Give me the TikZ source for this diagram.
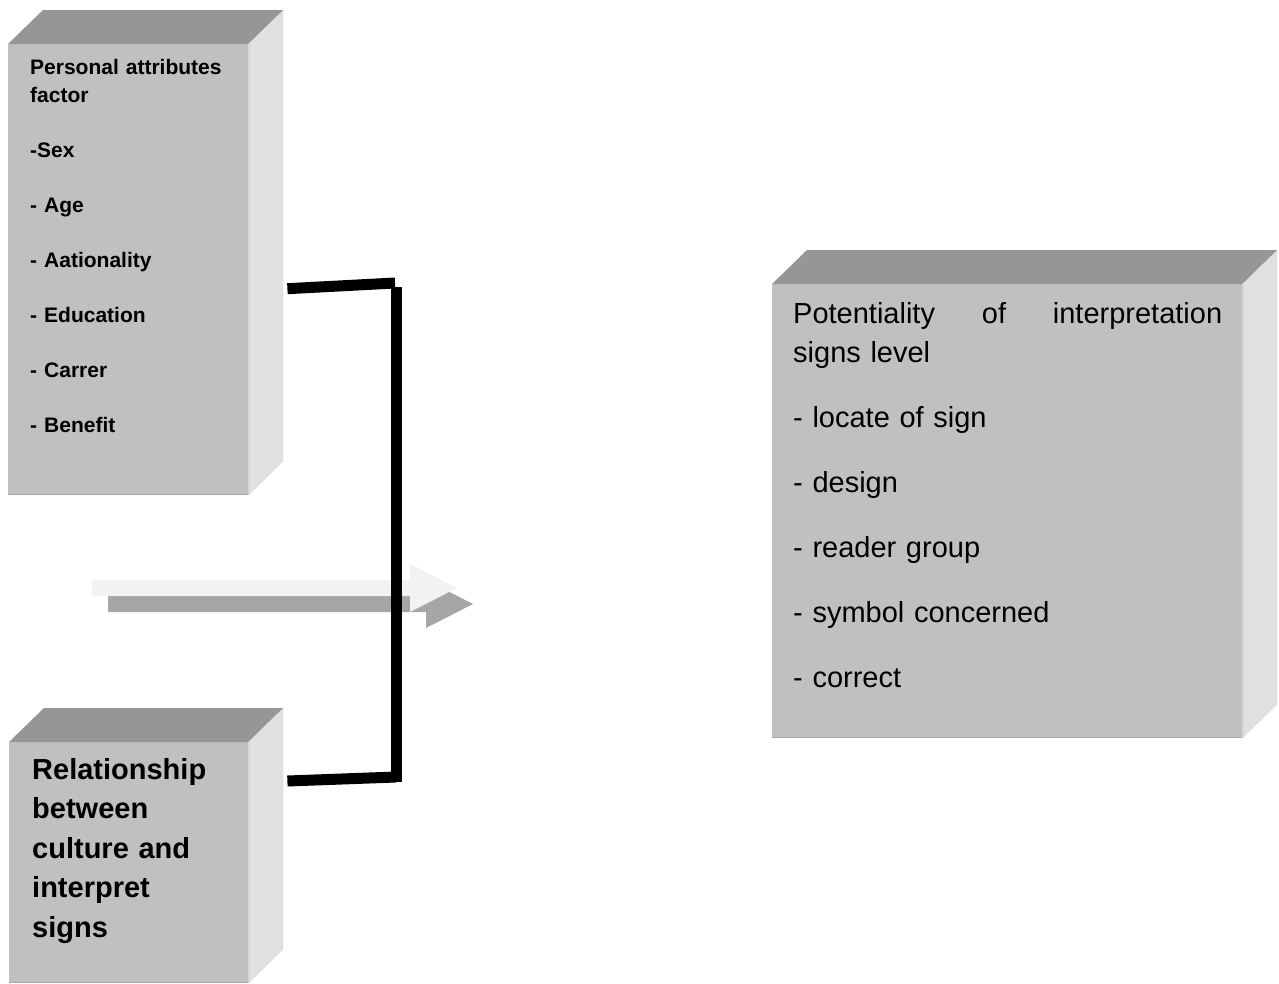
\documentclass[tikz,border=0pt]{standalone}
\usepackage{fontspec}
\setmainfont{Liberation Sans}
\usepackage{tikz}
\usetikzlibrary{calc}

\definecolor{frontgray}{HTML}{C0C0C0}
\definecolor{topgray}{HTML}{969696}
\definecolor{sidegray}{HTML}{E0E0E0}
\definecolor{edgelight}{HTML}{D6D6D6}
\definecolor{edgedark}{HTML}{A8A8A8}
\definecolor{arrowlight}{HTML}{F2F2F2}
\definecolor{arrowdark}{HTML}{A6A6A6}

\begin{document}
\begin{tikzpicture}[x=1pt,y=-1pt]
  \useasboundingbox (0,0) rectangle (1279,983);
  % front faces
  \begin{scope}[every node/.style={fill=frontgray,inner sep=0,anchor=north west}]
    \node[minimum width=240,minimum height=451] (attr) at (8,44) {};
    \node[minimum width=239,minimum height=241] (culture) at (9,742) {};
    \node[minimum width=470,minimum height=454] (interp) at (772,284) {};
  \end{scope}
  % top and side faces
  \foreach \b in {attr,culture,interp} {
    \fill[topgray] (\b.north west) -- ++(35,-34) -- ($(\b.north east)+(35,-34)$) -- (\b.north east) -- cycle;
    \fill[sidegray] (\b.north east) -- ++(35,-34) -- ($(\b.south east)+(35,-34)$) -- (\b.south east) -- cycle;
    \draw[edgelight,line width=2] ($(\b.north east)+(1,0)$) -- ($(\b.south east)+(1,0)$);
    \draw[edgedark,line width=1.5] ($(\b.south west)+(0,-0.75)$) -- ($(\b.south east)+(0,-0.75)$);
  }
  % texts
  \begin{scope}[every node/.style={anchor=base west,inner sep=0,align=left}]
    \node[text width=215,font=\fontsize{21}{28}\selectfont\bfseries] (attrtext) at (30,74)
      {Personal attributes\\factor\\[27pt]-Sex\\[27pt]- Age\\[27pt]- Aationality\\[27pt]- Education\\[27pt]- Carrer\\[27pt]- Benefit};
    \node[text width=200,font=\fontsize{29}{39.5}\selectfont\bfseries] (culturetext) at (32,779)
      {Relationship\\between\\culture and\\interpret\\signs};
    \node[text width=429,font=\fontsize{29}{39}\selectfont] (interptext) at (793,323)
      {Potentiality\hfill of\hfill interpretation\\signs level\\[26pt]- locate of sign\\[26pt]- design\\[26pt]- reader group\\[26pt]- symbol concerned\\[26pt]- correct};
  \end{scope}
  % arrow with its shadow
  \foreach \d/\c in {16/arrowdark,0/arrowlight}
    \fill[\c,shift={(\d,\d)}] (92,580) -- (410,580) -- (410,564) -- (457,588) -- (410,612) -- (410,596) -- (92,596) -- cycle;
  % bracket
  \coordinate (brtop) at (396,283);
  \coordinate (brbot) at (396,777);
  \begin{scope}[every path/.style={draw=black,line width=11}]
    \path ($(attr.east)+(39,19)$) -- ($(brtop)+(-1,0)$);
    \path ($(brtop)+(0,4)$) -- ($(brbot)+(0,5)$);
    \path ($(culture.north east)+(39,39)$) -- (brbot);
  \end{scope}
\end{tikzpicture}
\end{document}
